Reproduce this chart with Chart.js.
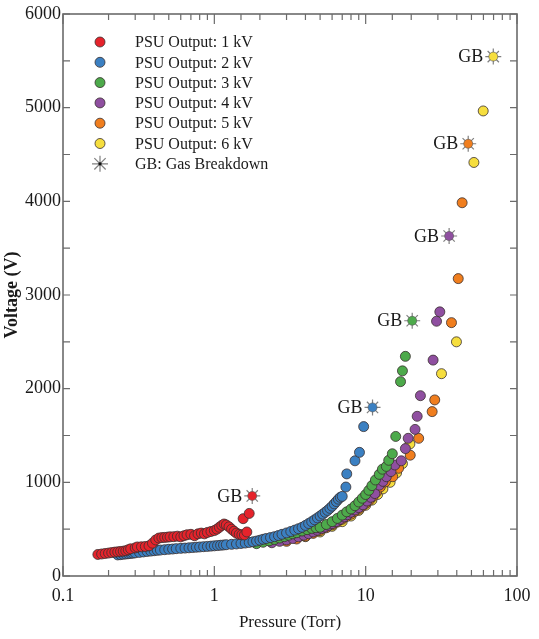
<!DOCTYPE html>
<html><head><meta charset="utf-8">
<script src="https://cdn.jsdelivr.net/npm/chart.js@4"></script>
<style>html,body{margin:0;padding:0;background:#fff;overflow:hidden;}</style>
</head><body>
<canvas id="c" width="539" height="639"></canvas>
<script>
// ---------- data ----------
const seriesLabels = ['PSU Output: 1 kV','PSU Output: 2 kV','PSU Output: 3 kV','PSU Output: 4 kV','PSU Output: 5 kV','PSU Output: 6 kV'];
const gbLegendLabel = 'GB: Gas Breakdown';
const gbText = 'GB';
const xTitle = 'Pressure (Torr)';
const yTitle = 'Voltage (V)';
const xTickLabels = ['0.1','1','10','100'];
const yTickLabels = ['0','1000','2000','3000','4000','5000','6000'];

const p1 = [0.17,0.18,0.19,0.2,0.21,0.22,0.23,0.24,0.25,0.26,0.27,0.28,0.3,0.31,0.33,0.35,0.37,0.39,0.41,0.43,0.45,0.47,0.49,0.51,0.54,0.57,0.6,0.63,0.66,0.7,0.74,0.78,0.82,0.86,0.9,0.95,1.0,1.04,1.08,1.12,1.16,1.2,1.25,1.3,1.35,1.4,1.46,1.52,1.58,1.64,1.55,1.7];
const v1 = [230,235,240,245,250,255,258,262,265,270,280,290,300,310,312,315,322,350,385,405,410,412,415,418,420,425,418,430,440,445,430,450,458,450,465,475,485,500,520,540,555,545,525,500,478,458,445,440,438,470,612,668];

const p2 = [0.23,0.24,0.25,0.26,0.27,0.28,0.29,0.3,0.32,0.34,0.36,0.38,0.4,0.42,0.44,0.47,0.5,0.53,0.56,0.6,0.64,0.68,0.72,0.76,0.8,0.85,0.9,0.95,1.0,1.05,1.1,1.15,1.2,1.3,1.4,1.5,1.6,1.7,1.8,1.9,2.0,2.1,2.2,2.35,2.5,2.65,2.8,3.0,3.2,3.4,3.6,3.8,4.0,4.2,4.4,4.6,4.8,5.0,5.2,5.4,5.6,5.8,6.0,6.2,6.4,6.6,6.8,7.0,7.4,7.5,8.5,9.1,9.7];
const v2 = [225,228,232,235,238,241,244,247,252,257,262,266,270,274,277,281,285,288,292,295,298,301,304,307,310,313,316,319,322,325,328,331,334,338,342,347,352,358,365,373,382,392,400,410,420,432,445,460,475,490,505,520,540,560,580,600,620,640,660,680,700,722,745,770,795,820,840,850,950,1090,1230,1320,1595];

const p3 = [1.9,2.1,2.3,2.5,2.7,2.9,3.1,3.3,3.5,3.8,4.1,4.4,4.7,5.0,5.5,6.0,6.5,7.0,7.5,8.0,8.5,9.0,9.5,10.0,10.5,11.0,11.6,12.3,12.9,13.7,14.2,15.0,15.8,17.0,17.5,18.3];
const v3 = [345,360,375,390,405,420,435,450,462,480,495,508,515,520,550,580,615,650,685,715,750,790,830,870,915,965,1025,1085,1140,1170,1235,1305,1490,2075,2190,2345];

const p4 = [2.4,2.7,3.0,3.3,3.6,3.9,4.2,4.5,4.8,5.1,5.4,5.7,6.0,6.4,6.8,7.2,7.6,8.0,8.5,9.0,9.6,10.2,10.8,11.5,12.3,13.0,13.7,14.7,15.6,17.2,18.3,19.1,21.2,21.9,23.0,27.9,29.4,30.9];
const v4 = [355,370,385,400,418,435,452,470,488,505,522,540,558,580,605,630,655,680,705,730,760,800,840,880,970,1010,1060,1115,1185,1230,1360,1470,1565,1705,1925,2305,2720,2820];

const p5 = [3.0,3.5,4.0,4.5,5.0,5.5,6.0,6.5,7.0,7.5,8.0,8.5,9.0,9.5,10.0,10.6,11.2,11.8,12.5,13.5,15.1,16.5,19.7,22.4,27.5,28.6,36.9,40.9,43.4];
const v5 = [370,395,425,455,485,515,545,575,605,635,660,690,715,745,775,810,850,895,950,1005,1060,1150,1290,1470,1755,1880,2705,3175,3985];

const p6 = [4.0,5.0,6.0,7.0,8.0,9.0,10.0,11.0,12.0,13.0,14.5,16.0,17.5,19.6,31.7,39.8,51.9,59.8];
const v6 = [420,470,530,580,640,700,755,810,870,930,1000,1100,1200,1410,2160,2500,4415,4965];

const gbP = [1.78,11.1,20.3,35.6,47.6,69.7];
const gbV = [855,1800,2725,3630,4615,5545];

// ---------- styling ----------
const seriesColors = ['#e5232b','#3b80c2','#4daa4b','#8f4fa0','#f07e1e','#f6de3e'];
const FONT = "'Liberation Serif', 'Times New Roman', serif";
const pressures = [p1,p2,p3,p4,p5,p6];
const voltages = [v1,v2,v3,v4,v5,v6];

const datasets = seriesLabels.map((lab,i)=>({
  label: lab,
  data: pressures[i].map((p,j)=>({x:p, y:voltages[i][j]})),
  backgroundColor: seriesColors[i],
  borderColor: '#3a3030',
  borderWidth: 0.8,
  pointRadius: 5,
  pointHoverRadius: 5,
  order: 0
}));
datasets.push({
  label: gbLegendLabel,
  data: gbP.map((p,j)=>({x:p, y:gbV[j]})),
  pointStyle: 'star',
  pointRadius: 8,
  borderColor: '#808080',
  backgroundColor: 'transparent',
  borderWidth: 1.2,
  order: -1
});
datasets.push({
  label: '',
  data: gbP.map((p,j)=>({x:p, y:gbV[j]})),
  pointStyle: 'circle',
  pointRadius: 4.5,
  backgroundColor: seriesColors,
  borderColor: '#555',
  borderWidth: 0.6,
  order: -2
});

const isDecade = v => { const l = Math.log10(v); return Math.abs(l - Math.round(l)) < 1e-6; };

const framePlugin = {
  id: 'frame',
  beforeDatasetsDraw(chart) {
    const {ctx, chartArea: a, scales: {x, y}} = chart;
    ctx.save();
    ctx.strokeStyle = '#6b6b6b';
    ctx.lineWidth = 1.2;
    ctx.beginPath();
    x.ticks.forEach(t => {
      const px = x.getPixelForValue(t.value);
      const len = isDecade(t.value) ? 10 : 6;
      ctx.moveTo(px, a.bottom); ctx.lineTo(px, a.bottom - len);
      ctx.moveTo(px, a.top); ctx.lineTo(px, a.top + len);
    });
    y.ticks.forEach(t => {
      const py = y.getPixelForValue(t.value);
      ctx.moveTo(a.left, py); ctx.lineTo(a.left + 7, py);
      ctx.moveTo(a.right, py); ctx.lineTo(a.right - 7, py);
    });
    ctx.stroke();
    ctx.lineWidth = 1.6;
    ctx.strokeRect(a.left, a.top, a.right - a.left, a.bottom - a.top);
    ctx.restore();
  },
  afterDatasetsDraw(chart) {
    const {ctx, scales: {x, y}} = chart;
    ctx.save();
    // GB labels
    ctx.font = "18px " + FONT;
    ctx.fillStyle = '#1a1a1a';
    ctx.textAlign = 'right';
    ctx.textBaseline = 'middle';
    chart.data.datasets[6].data.forEach(pt => {
      const px = x.getPixelForValue(pt.x), py = y.getPixelForValue(pt.y);
      ctx.fillText(gbText, px - 10, py + 1);
    });
    // legend
    const lx = 100, ly0 = 42, dy = 20.3, tx = 135;
    ctx.font = "16px " + FONT;
    ctx.textAlign = 'left';
    for (let i = 0; i < 7; i++) {
      const ds = chart.data.datasets[i];
      const yy = ly0 + i * dy;
      if (i < 6) {
        ctx.beginPath();
        ctx.arc(lx, yy, 5, 0, Math.PI * 2);
        ctx.fillStyle = ds.backgroundColor;
        ctx.fill();
        ctx.strokeStyle = '#3a3030';
        ctx.lineWidth = 0.8;
        ctx.stroke();
      } else {
        ctx.strokeStyle = '#808080';
        ctx.lineWidth = 1.2;
        ctx.beginPath();
        const r = 8;
        for (let k = 0; k < 4; k++) {
          const ang = k * Math.PI / 4;
          ctx.moveTo(lx - r * Math.cos(ang), yy - r * Math.sin(ang));
          ctx.lineTo(lx + r * Math.cos(ang), yy + r * Math.sin(ang));
        }
        ctx.stroke();
        ctx.beginPath();
        ctx.arc(lx, yy, 1.6, 0, Math.PI * 2);
        ctx.fillStyle = '#111';
        ctx.fill();
      }
      ctx.fillStyle = '#1a1a1a';
      ctx.fillText(ds.label, tx, yy + 1);
    }
    ctx.restore();
  }
};

new Chart(document.getElementById('c'), {
  type: 'scatter',
  data: { datasets },
  options: {
    responsive: false,
    animation: false,
    devicePixelRatio: 1,
    layout: { padding: { left: 0, right: 22, top: 14, bottom: 0 } },
    plugins: { legend: { display: false }, tooltip: { enabled: false } },
    scales: {
      x: {
        type: 'logarithmic',
        min: 0.1, max: 100,
        grid: { display: true, drawOnChartArea: false, drawTicks: false },
        border: { display: false },
        ticks: {
          autoSkip: false, maxRotation: 0, padding: 9,
          color: '#1a1a1a',
          font: { family: FONT, size: 18 },
          callback: (v) => isDecade(v) ? xTickLabels[Math.round(Math.log10(v)) + 1] : ''
        },
        title: { display: true, text: xTitle, color: '#1a1a1a', font: { family: FONT, size: 17 }, padding: { top: 0, bottom: 6 } },
        afterFit: (s) => { s.height = 63; s.paddingLeft = 0; s.paddingRight = 0; }
      },
      y: {
        min: 0, max: 6000,
        grid: { display: true, drawOnChartArea: false, drawTicks: false },
        border: { display: false },
        ticks: {
          stepSize: 500, autoSkip: false, padding: 2,
          color: '#1a1a1a',
          font: { family: FONT, size: 18 },
          callback: (v) => (v % 1000 === 0) ? yTickLabels[v / 1000] : ''
        },
        title: { display: true, text: yTitle, color: '#1a1a1a', font: { family: FONT, size: 18, weight: 'bold' }, padding: { top: 2, bottom: 0 } },
        afterFit: (s) => { s.width = 63; s.paddingTop = 0; s.paddingBottom = 0; }
      }
    }
  },
  plugins: [framePlugin]
});
</script>
</body></html>
